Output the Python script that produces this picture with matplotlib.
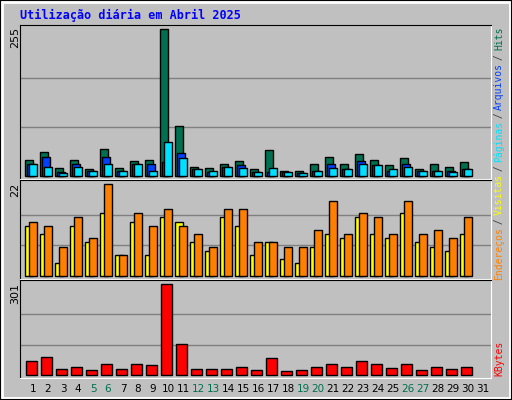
import matplotlib
matplotlib.use("Agg")
import matplotlib.pyplot as plt
from matplotlib.patches import Rectangle

days = list(range(1, 32))
hits     = [27, 42, 14, 28, 11, 46, 13, 25, 28, 255, 87, 16, 13, 20, 25, 11, 44, 9, 9, 21, 32, 20, 37, 27, 18, 30, 11, 21, 16, 23]
arquivos = [20, 33, 7, 21, 9, 32, 9, 20, 20, 23, 39, 11, 7, 16, 18, 7, 6, 6, 4, 9, 20, 11, 25, 18, 9, 20, 9, 9, 9, 11]
paginas  = [20, 16, 4, 16, 9, 20, 9, 20, 9, 58, 30, 11, 9, 16, 13, 7, 14, 6, 4, 9, 14, 11, 20, 18, 11, 16, 9, 9, 7, 11]
visitas   = [13, 12, 7, 14, 9, 22, 5, 15, 12, 16, 12, 10, 7, 16, 16, 8, 8, 7, 7, 11, 18, 10, 15, 14, 10, 18, 10, 11, 9, 14]
enderecos = [12, 10, 3, 12, 8, 15, 5, 13, 5, 14, 13, 8, 6, 14, 12, 5, 8, 4, 3, 7, 10, 9, 14, 10, 9, 15, 8, 7, 6, 10]
kbytes = [47, 60, 18, 27, 14, 34, 18, 34, 31, 301, 101, 18, 18, 18, 27, 14, 54, 11, 14, 27, 34, 24, 47, 37, 21, 34, 14, 27, 18, 24]
weekend = [5, 6, 12, 13, 19, 20, 26, 27]

BG = "#c0c0c0"
C_HITS, C_FILES, C_PAGES = "#007050", "#0040ff", "#00e0ff"
C_VIS, C_END, C_KB = "#ff8000", "#ffff00", "#ff0000"

fig = plt.figure(figsize=(5.12, 4.0), dpi=100, facecolor=BG)
fig.patches.append(Rectangle((0.004, 0.004), 0.992, 0.992, transform=fig.transFigure,
                             fill=False, edgecolor="white", lw=2))
fig.patches.append(Rectangle((0.0, 0.0), 1, 1, transform=fig.transFigure,
                             fill=False, edgecolor="black", lw=1.5))

L, W = 20 / 512, 471 / 512
ax1 = fig.add_axes([L, 1 - 179 / 400, W, 154 / 400])
ax2 = fig.add_axes([L, 1 - 279 / 400, W, 99 / 400])
ax3 = fig.add_axes([L, 1 - 378 / 400, W, 98 / 400])

def style(ax, ymin, ymax, top):
    ax.set_facecolor(BG)
    ax.set_xlim(0, 31.4)
    ax.set_ylim(ymin, ymax)
    ax.set_xticks([]); ax.set_yticks([])
    for s in ["left", "top"]:
        ax.spines[s].set_color("black")
    for s in ["right", "bottom"]:
        ax.spines[s].set_color("white")
    for f in (1 / 3, 2 / 3):
        ax.axhline(top * f, color="#808080", lw=1, zorder=0)

style(ax1, -5.7, 262, 255)
style(ax2, -0.8, 23, 22)
style(ax3, -11, 315, 301)

n = len(hits)
xs = [i + 0.353 for i in range(n)]
bw = 0.49
kw = dict(edgecolor="black", linewidth=1, align="edge", width=bw)
ax1.bar(xs, hits, color=C_HITS, **kw)
ax1.bar([x + 0.13 for x in xs], arquivos, color=C_FILES, **kw)
ax1.bar([x + 0.27 for x in xs], paginas, color=C_PAGES, **kw)
ax2.bar(xs, enderecos, color=C_END, **kw)
ax2.bar([x + 0.27 for x in xs], visitas, color=C_VIS, **kw)
ax3.bar([i + 0.4 for i in range(n)], kbytes, color=C_KB, edgecolor="black",
        linewidth=1, align="edge", width=0.71)

mono = "DejaVu Sans Mono"
for lab, ytop in [("255", 27), ("22", 183), ("301", 283)]:
    fig.text(15 / 512, 1 - ytop / 400, lab, rotation=90, ha="center", va="top",
             fontsize=8, family="DejaVu Sans")

for d in days:
    ax3.text(d - 1 + 0.87, -0.06, str(d), transform=ax3.get_xaxis_transform(),
             ha="center", va="top", fontsize=7.5,
             color=C_HITS if d in weekend else "black")

fig.text(20 / 512, 1 - 15 / 400, "Utilização diária em Abril 2025", color="#0000ff",
         fontsize=8.5, fontweight="bold", family=mono, va="center")

# right legend, read bottom-up; placed char by char from the top
pieces = [("Hits", C_HITS), (" / ", "#404040"), ("Arquivos", C_FILES), (" / ", "#404040"),
          ("Páginas", C_PAGES), (" / ", "#404040"), ("Visitas", C_END), (" / ", "#404040"),
          ("Endereços", C_VIS)]
step = 5.3
y = 277.0
for txt, col in reversed(pieces):
    h = len(txt) * step
    fig.text(499 / 512, 1 - (y - h / 2) / 400, txt, color=col, rotation=90, ha="center",
             va="center", fontsize=7, family=mono)
    y -= h
fig.text(499 / 512, 1 - 358 / 400, "KBytes", color=C_KB, rotation=90, ha="center",
         va="center", fontsize=7, family=mono)

fig.savefig("out.png", dpi=100, facecolor=BG)
